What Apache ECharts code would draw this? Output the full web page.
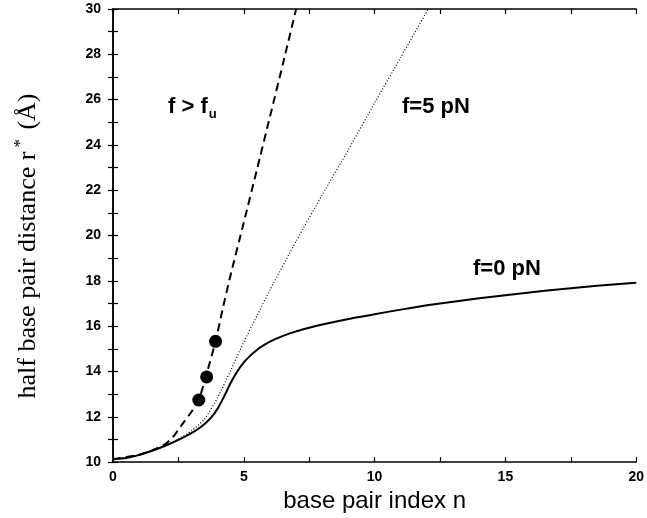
<!DOCTYPE html>
<html>
<head>
<meta charset="utf-8">
<script src="https://cdn.jsdelivr.net/npm/echarts@6/dist/echarts.min.js"></script>
<style>
html,body{margin:0;padding:0;background:#fff;}
#chart{width:647px;height:518px;}
</style>
</head>
<body>
<div id="chart"></div>
<script>
// f = 0 pN (solid)
const zeroX = [0, 0.5, 1, 1.5, 2, 2.5, 3, 3.25, 3.5, 3.75, 4, 4.25, 4.5, 4.75, 5, 5.25, 5.5, 5.75, 6, 6.5, 7, 7.5, 8, 9, 10, 11, 12, 13, 14, 15, 16, 17, 18, 19, 20];
const zeroY = [10.13, 10.18, 10.32, 10.5, 10.72, 10.98, 11.28, 11.46, 11.68, 11.96, 12.36, 12.9, 13.5, 14.0, 14.4, 14.7, 14.95, 15.15, 15.32, 15.57, 15.77, 15.93, 16.07, 16.32, 16.53, 16.73, 16.92, 17.08, 17.23, 17.37, 17.5, 17.62, 17.73, 17.83, 17.92];
// f = 5 pN (dotted)
const fiveX = [0, 1, 2, 2.5, 3, 3.5, 4, 4.5, 5, 5.5, 6, 7, 8, 9, 10, 11, 12.05];
const fiveY = [10.13, 10.32, 10.74, 11.02, 11.38, 11.9, 12.85, 14.05, 15.3, 16.45, 17.6, 19.75, 21.8, 23.8, 25.85, 27.87, 30];
// f > f_u (dashed)
const highX = [0, 1, 1.5, 2, 2.3, 2.68, 3.0, 3.28, 3.58, 3.92, 4.2, 4.47, 5, 5.5, 6, 6.5, 7.0];
const highY = [10.13, 10.32, 10.52, 10.8, 11.12, 11.72, 12.22, 12.74, 13.9, 15.33, 16.8, 18.14, 20.58, 22.9, 25.25, 27.6, 30];
// circles
const dotX = [3.28, 3.58, 3.92];
const dotY = [12.74, 13.76, 15.33];
// axes
const xTicks = [0, 5, 10, 15, 20];
const yTicks = [10, 12, 14, 16, 18, 20, 22, 24, 26, 28, 30];

const zip = (xs, ys) => xs.map((x, i) => [x, ys[i]]);

const chart = echarts.init(document.getElementById('chart'), null, {renderer: 'canvas'});
const tickStyle = {show: true, inside: true, length: 5, lineStyle: {color: '#000', width: 1.2}};
const minorStyle = {show: true, splitNumber: 2, length: 5, lineStyle: {color: '#000', width: 1.2}};
const lineAx = {show: true, lineStyle: {color: '#000', width: 1.5}};
const labelFont = {color: '#000', fontFamily: 'Liberation Sans, Arial, sans-serif', fontWeight: 'bold', fontSize: 14};

chart.setOption({
  animation: false,
  backgroundColor: '#fff',
  grid: {left: 113, right: 10, top: 9, bottom: 52, containLabel: false},
  xAxis: [{
    type: 'value', min: xTicks[0], max: xTicks[xTicks.length - 1], interval: 5, position: 'bottom',
    axisLine: lineAx, axisTick: tickStyle, minorTick: minorStyle, splitLine: {show: false},
    axisLabel: Object.assign({margin: 8}, labelFont),
    name: 'base pair index n', nameLocation: 'middle', nameGap: 24,
    nameTextStyle: {color: '#000', fontFamily: 'Liberation Sans, Arial, sans-serif', fontSize: 24}
  }, {
    type: 'value', min: xTicks[0], max: xTicks[xTicks.length - 1], interval: 5, position: 'top',
    axisLine: lineAx, axisTick: tickStyle, minorTick: minorStyle, splitLine: {show: false},
    axisLabel: {show: false}
  }],
  yAxis: [{
    type: 'value', min: yTicks[0], max: yTicks[yTicks.length - 1], interval: 2, position: 'left',
    axisLine: lineAx, axisTick: tickStyle, minorTick: minorStyle, splitLine: {show: false},
    axisLabel: Object.assign({margin: 12}, labelFont)
  }, {
    type: 'value', min: yTicks[0], max: yTicks[yTicks.length - 1], interval: 2, position: 'right',
    axisLine: lineAx, axisTick: tickStyle, minorTick: minorStyle, splitLine: {show: false},
    axisLabel: {show: false}
  }],
  series: [{
    type: 'line', name: 'f=0 pN', data: zip(zeroX, zeroY), showSymbol: false, smooth: 0.2,
    lineStyle: {color: '#000', width: 2, type: 'solid'}
  }, {
    type: 'line', name: 'f=5 pN', data: zip(fiveX, fiveY), showSymbol: false, smooth: 0.2,
    lineStyle: {color: '#000', width: 1.2, type: [1, 2]}
  }, {
    type: 'line', name: 'f>fu', data: zip(highX, highY), showSymbol: false, smooth: 0.2,
    lineStyle: {color: '#000', width: 2, type: [8, 5]}
  }, {
    type: 'scatter', data: zip(dotX, dotY), symbol: 'circle', symbolSize: 13,
    itemStyle: {color: '#000', opacity: 1}
  }],
  graphic: [{
    type: 'text', x: 28, y: 246, rotation: Math.PI / 2,
    style: {
      text: 'half base pair distance r{sup|*} (Å)', fill: '#000',
      font: '26px "Liberation Serif", "Times New Roman", serif',
      align: 'center', verticalAlign: 'middle',
      rich: {sup: {font: '17px "Liberation Serif", serif', fill: '#000', padding: [0, 3, 14, 4]}}
    }
  }, {
    type: 'text', left: 168, top: 96,
    style: {
      text: 'f > f{sub|u}', fill: '#000',
      font: 'bold 22px "Liberation Sans", Arial, sans-serif',
      rich: {sub: {font: 'bold 13px "Liberation Sans", Arial, sans-serif', fill: '#000', padding: [14, 0, 0, 1]}}
    }
  }, {
    type: 'text', left: 402, top: 96,
    style: {text: 'f=5 pN', fill: '#000', font: 'bold 22px "Liberation Sans", Arial, sans-serif'}
  }, {
    type: 'text', left: 473, top: 258,
    style: {text: 'f=0 pN', fill: '#000', font: 'bold 22px "Liberation Sans", Arial, sans-serif'}
  }]
});
</script>
</body>
</html>
